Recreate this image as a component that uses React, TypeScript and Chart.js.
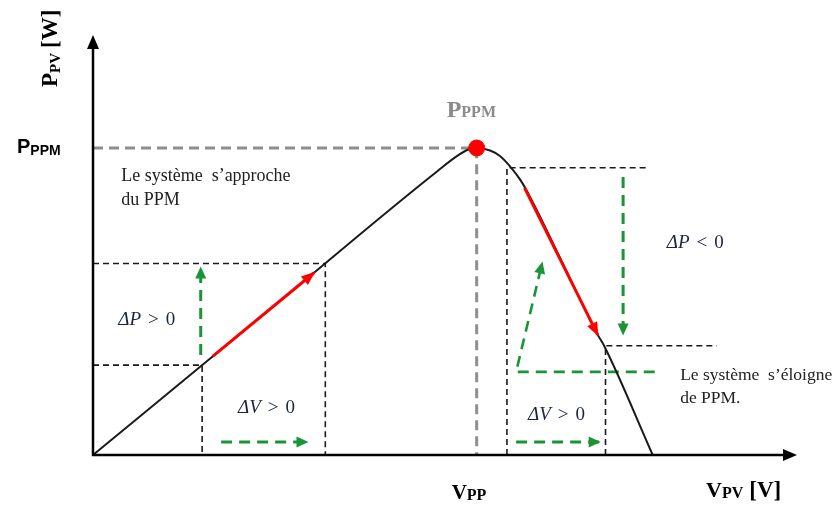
import { useEffect, useRef } from "react";
import { Chart, registerables } from "chart.js";

Chart.register(...registerables);

// P–V characteristic of the PV generator (both axes in % of their span)
const curveV = [0, 25, 49, 52.0, 53.4, 54.5, 56.4, 57.8, 59.2, 60.7, 62.1, 66.9, 71.7, 72.6, 79.5];
const curveP = [0, 34.5, 67.7, 71.5, 72.8, 73.1, 72.5, 71.2, 68.8, 65.5, 61.4, 45.0, 28.6, 26.0, 0];

// maximum power point
const mppV = [0, 54.5, 54.5];
const mppP = [73.1, 73.1, 0];

// perturbation on the rising side (V, P before/after the step)
const riseLowV = [0, 15.5, 15.5];
const riseLowP = [21.4, 21.4, 0];
const riseHighV = [0, 33.0, 33.0];
const riseHighP = [45.6, 45.6, 0];
const riseMoveV = [17.0, 31.4];
const riseMoveP = [23.5, 43.4];

// perturbation on the falling side
const fallHighV = [58.8, 58.8, 78.8];
const fallHighP = [0, 68.4, 68.4];
const fallLowV = [72.8, 72.8, 88.6];
const fallLowP = [0, 26.0, 26.0];
const fallMoveV = [61.3, 66.5, 71.7];
const fallMoveP = [63.6, 46.1, 28.6];

// ΔP / ΔV indicators
const dPupV = [15.3, 15.3];
const dPupP = [23.8, 44.5];
const dVleftV = [18.2, 30.4];
const dVleftP = [3.1, 3.1];
const dPdownV = [75.3, 75.3];
const dPdownP = [66.2, 28.8];
const dVrightV = [60.1, 71.9];
const dVrightP = [3.1, 3.1];
const awayV = [79.8, 60.1, 63.8];
const awayP = [19.8, 19.8, 45.7];

const RED = "#ff0000";
const GREEN = "#1b9436";
const INK = "#1a1a1a";
const MATH = "#1c2440";

const pts = (v: number[], p: number[]) => v.map((x, i) => ({ x, y: p[i] }));

const dashed = (v: number[], p: number[], color: string, width: number, dash: number[], head?: number[]) => ({
  data: pts(v, p),
  borderColor: color,
  borderWidth: width,
  borderDash: dash,
  pointRadius: 0,
  fill: false,
  tension: 0,
  clip: false as const,
  arrowHead: head,
});

const datasets: any[] = [
  {
    data: [{ x: mppV[1], y: mppP[1] }],
    showLine: false,
    pointRadius: 8,
    pointBackgroundColor: RED,
    pointBorderColor: RED,
    clip: false,
  },
  { ...dashed(riseMoveV, riseMoveP, RED, 3, [], [14, 11]) },
  { ...dashed(fallMoveV, fallMoveP, RED, 3, [], [14, 11]) },
  {
    data: pts(curveV, curveP),
    borderColor: INK,
    borderWidth: 2,
    pointRadius: 0,
    fill: false,
    cubicInterpolationMode: "monotone",
    clip: false,
  },
  dashed(dPupV, dPupP, GREEN, 3, [11, 7], [12, 11]),
  dashed(dVleftV, dVleftP, GREEN, 3, [11, 7], [12, 11]),
  dashed(dPdownV, dPdownP, GREEN, 3, [11, 7], [12, 11]),
  dashed(dVrightV, dVrightP, GREEN, 3, [11, 7], [12, 11]),
  dashed(awayV, awayP, GREEN, 2.6, [11, 7], [12, 11]),
  dashed(mppV, mppP, "#8e8e8e", 3, [10, 6]),
  dashed(riseLowV, riseLowP, INK, 1.6, [6, 4]),
  dashed(riseHighV, riseHighP, INK, 1.6, [6, 4]),
  dashed(fallHighV, fallHighP, INK, 1.6, [6, 4]),
  dashed(fallLowV, fallLowP, INK, 1.6, [6, 4]),
];

function head(ctx: CanvasRenderingContext2D, tx: number, ty: number, ux: number, uy: number, len: number, wid: number, color: string) {
  const bx = tx - ux * len;
  const by = ty - uy * len;
  ctx.beginPath();
  ctx.moveTo(tx, ty);
  ctx.lineTo(bx - uy * wid / 2, by + ux * wid / 2);
  ctx.lineTo(bx + uy * wid / 2, by - ux * wid / 2);
  ctx.closePath();
  ctx.fillStyle = color;
  ctx.fill();
}

// arrowheads at the last point of datasets that carry an `arrowHead` option
const arrowPlugin = {
  id: "arrowHeads",
  afterDatasetsDraw(chart: any) {
    const ctx = chart.ctx as CanvasRenderingContext2D;
    chart.data.datasets.forEach((ds: any, i: number) => {
      if (!ds.arrowHead) return;
      const els = chart.getDatasetMeta(i).data;
      const a = els[els.length - 2];
      const b = els[els.length - 1];
      const dx = b.x - a.x;
      const dy = b.y - a.y;
      const l = Math.hypot(dx, dy);
      const ux = dx / l;
      const uy = dy / l;
      head(ctx, b.x + ux * 1.5, b.y + uy * 1.5, ux, uy, ds.arrowHead[0], ds.arrowHead[1], ds.borderColor);
    });
  },
};

// the two axes with their arrows
const axesPlugin = {
  id: "axes",
  afterDatasetsDraw(chart: any) {
    const ctx = chart.ctx as CanvasRenderingContext2D;
    const { left, right, top, bottom } = chart.chartArea;
    ctx.save();
    ctx.strokeStyle = "#000";
    ctx.lineWidth = 2.5;
    ctx.beginPath();
    ctx.moveTo(left - 1, bottom);
    ctx.lineTo(right - 10, bottom);
    ctx.moveTo(left, bottom + 1);
    ctx.lineTo(left, top + 10);
    ctx.stroke();
    head(ctx, right, bottom, 1, 0, 14, 12, "#000");
    head(ctx, left, top, 0, -1, 14, 12, "#000");
    ctx.restore();
  },
};

function sub(ctx: CanvasRenderingContext2D, x: number, y: number, main: string, low: string, mainFont: string, lowFont: string, drop: number) {
  ctx.font = mainFont;
  ctx.fillText(main, x, y);
  const w = ctx.measureText(main).width;
  ctx.font = lowFont;
  ctx.fillText(low, x + w, y + drop);
  return w + ctx.measureText(low).width;
}

function math(ctx: CanvasRenderingContext2D, x: number, y: number, sym: string, rel: string) {
  ctx.fillStyle = MATH;
  ctx.font = 'italic 19px "Liberation Serif"';
  ctx.fillText("Δ" + sym, x, y);
  let cx = x + ctx.measureText("Δ" + sym).width + 7;
  ctx.font = '19px "Liberation Serif"';
  ctx.fillText(rel, cx, y);
  cx += ctx.measureText(rel).width + 7;
  ctx.fillText("0", cx, y);
}

// labels and annotations
const labelsPlugin = {
  id: "labels",
  afterDraw(chart: any) {
    const ctx = chart.ctx as CanvasRenderingContext2D;
    const sx = (v: number) => chart.scales.x.getPixelForValue(v);
    const sy = (p: number) => chart.scales.y.getPixelForValue(p);
    const { left, bottom } = chart.chartArea;
    ctx.save();
    ctx.textBaseline = "alphabetic";
    ctx.textAlign = "left";

    // axis titles
    ctx.fillStyle = "#000";
    ctx.save();
    ctx.translate(left - 36, 87);
    ctx.rotate(-Math.PI / 2);
    const wy = sub(ctx, 0, 0, "P", "PV", 'bold 23px "Liberation Serif"', 'bold 15px "Liberation Serif"', 3);
    ctx.font = 'bold 23px "Liberation Serif"';
    ctx.fillText("[W]", wy + 5, 0);
    ctx.restore();

    sub(ctx, 17, sy(mppP[1]) + 5, "P", "PPM", 'bold 20px "Liberation Sans"', 'bold 14px "Liberation Sans"', 2);
    sub(ctx, sx(mppV[1]) - 25, bottom + 44, "V", "PP", 'bold 21px "Liberation Serif"', 'bold 16px "Liberation Serif"', 1);
    const wx = sub(ctx, 706, bottom + 42, "V", "PV", 'bold 22px "Liberation Serif"', 'bold 16px "Liberation Serif"', 1);
    ctx.font = 'bold 23px "Liberation Serif"';
    ctx.fillText("[V]", 706 + wx + 6, bottom + 42);

    // maximum power point label
    ctx.fillStyle = "#8a8a8a";
    sub(ctx, sx(mppV[1]) - 30, sy(mppP[1]) - 31, "P", "PPM", 'bold 24px "Liberation Serif"', 'bold 16px "Liberation Serif"', 0);

    // explanatory text
    ctx.fillStyle = "#222";
    ctx.font = '18px "Liberation Serif"';
    ctx.fillText("Le système  s’approche", sx(4.0), sy(65.2));
    ctx.fillText("du PPM", sx(4.0), sy(65.2) + 24);
    ctx.font = '17.5px "Liberation Serif"';
    ctx.fillText("Le système  s’éloigne", sx(83.4), sy(17.9));
    ctx.fillText("de PPM.", sx(83.4), sy(17.9) + 23);

    math(ctx, sx(3.6), sy(31.0), "P", ">");
    math(ctx, sx(20.6), sy(10.0), "V", ">");
    math(ctx, sx(61.8), sy(8.3), "V", ">");
    math(ctx, sx(81.5), sy(49.3), "P", "<");
    ctx.restore();
  },
};

export default function App() {
  const ref = useRef<HTMLCanvasElement>(null);
  useEffect(() => {
    const canvas = ref.current!;
    const chart = new Chart(canvas, {
      type: "line",
      data: { datasets },
      options: {
        animation: false,
        responsive: false,
        events: [],
        layout: { padding: { left: 93, right: 40, top: 35, bottom: 52 } },
        scales: {
          x: { type: "linear", min: 0, max: 100, display: false },
          y: { type: "linear", min: 0, max: 100, display: false },
        },
        plugins: { legend: { display: false }, tooltip: { enabled: false } },
      },
      plugins: [arrowPlugin, axesPlugin, labelsPlugin],
    } as any);
    return () => chart.destroy();
  }, []);
  return (
    <div style={{ position: "fixed", left: 0, top: 0, width: 837, height: 507, background: "#fff" }}>
      <canvas ref={ref} width={837} height={507} style={{ display: "block" }} />
    </div>
  );
}
